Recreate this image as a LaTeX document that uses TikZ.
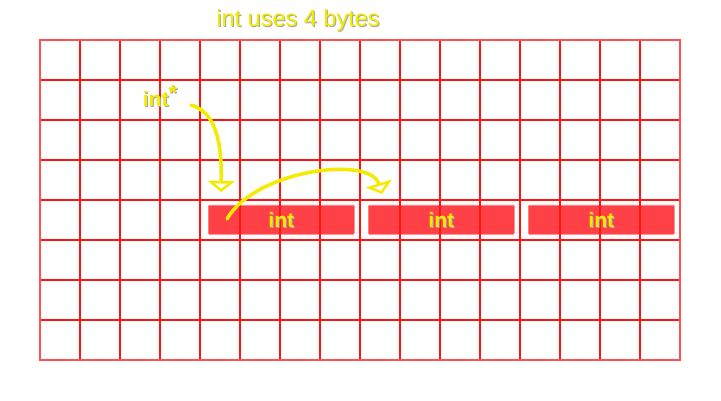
\documentclass[tikz,border=0pt]{standalone}
\usepackage{fontspec}
\setmainfont{Liberation Sans}
\usetikzlibrary{arrows.meta}
\definecolor{gridred}{RGB}{255,20,20}
\definecolor{boxred}{RGB}{255,64,70}
\definecolor{ylw}{RGB}{245,235,0}
\tikzset{
  gridline/.style={draw=gridred, line width=2pt},
  intbox/.style={fill=boxred, draw=boxred!70!white, line width=0.6pt, rounded corners=1pt, minimum width=146pt, minimum height=29pt, inner sep=0pt, anchor=north west},
  lbl/.style={text=ylw, font=\bfseries\fontsize{21}{21}\selectfont},
  ttl/.style={text=ylw, font=\fontsize{23.5}{24}\selectfont},
  shd/.style={text=black!35},
  ptr/.style={draw=ylw, line width=3.5pt, line cap=round, -{Triangle[open, length=11pt, width=27pt, line width=2.5pt]}},
}
\newcommand{\starsup}{\raisebox{0.3em}{\bfseries\fontsize{22}{22}\selectfont *}}
\begin{document}
\begin{tikzpicture}[x=1pt,y=-1pt]
\useasboundingbox (0,0) rectangle (721,401);
\fill[white] (0,0) rectangle (721,401);
% int boxes
\node[intbox] (b1) at (208,205) {};
\node[intbox] (b2) at (368,205) {};
\node[intbox] (b3) at (528,205) {};
% grid
\foreach \i in {1,...,15} { \draw[gridline] (40+40*\i,40) -- (40+40*\i,360); }
\foreach \j in {1,...,7} { \draw[gridline] (40,40+40*\j) -- (680,40+40*\j); }
\draw[draw=gridred!75, line width=2.5pt] (40,40) rectangle (680,360);
% labels
\foreach \b in {b1,b2,b3} {
  \node[lbl, shd] at ([shift={(1,1)}]\b.center) {int};
  \node[lbl] (t\b) at (\b.center) {int};
}
\node[ttl, shd] at (299,21) {int uses 4 bytes};
\node[ttl] (title) at (298,20) {int uses 4 bytes};
\node[lbl, shd] at (161,97) {int\starsup};
\node[lbl] (ptr) at (160,96) {int\starsup};
% arrows
\coordinate (s1) at (191,105);
\coordinate (e1) at (221,192);
\coordinate (s2) at (227,219);
\coordinate (e2) at (382,194);
\draw[ptr] (s1) .. controls (215,112) and (222,140) .. (e1);
\draw[ptr] (s2) .. controls (255,170) and (370,155) .. (e2);
\end{tikzpicture}
\end{document}
